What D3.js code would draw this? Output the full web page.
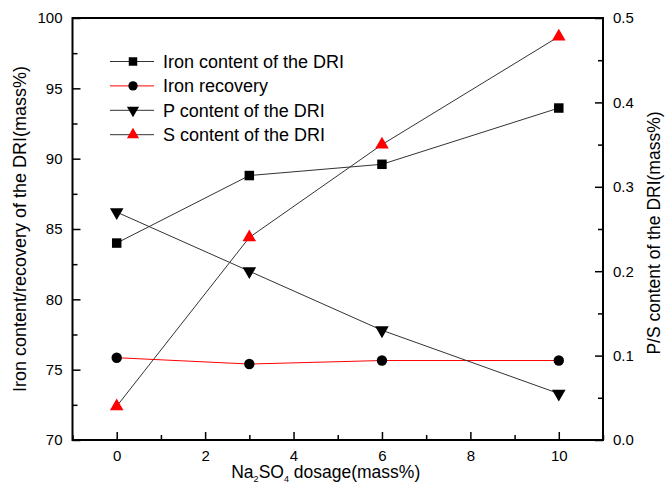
<!DOCTYPE html>
<html><head><meta charset="utf-8">
<script src="https://cdn.jsdelivr.net/npm/d3@7"></script>
<style>body{margin:0;background:#fff}svg{display:block}</style>
</head><body>
<svg id="c" width="666" height="489"></svg>
<script>
const dosage = [0, 3, 6, 10];
const ironContent = [84.0, 88.8, 89.6, 93.6];
const ironRecovery = [75.85, 75.4, 75.65, 75.65];
const pContent = [0.27, 0.20, 0.13, 0.055];
const sContent = [0.04, 0.24, 0.35, 0.478];
const leftTicks = [70, 75, 80, 85, 90, 95, 100];
const rightTicks = [0.0, 0.1, 0.2, 0.3, 0.4, 0.5];
const xTicks = [0, 2, 4, 6, 8, 10];
const seriesNames = ["Iron content of the DRI", "Iron recovery", "P content of the DRI", "S content of the DRI"];

const svg = d3.select("#c");
const L = 72.5, R = 603, T = 18, B = 440;
const font = "Liberation Sans, Arial, sans-serif";
const x = d3.scaleLinear().domain([-1, 11]).range([L, R]);
const yL = d3.scaleLinear().domain([70, 100]).range([B, T]);
const yR = d3.scaleLinear().domain([0, 0.5]).range([B, T]);

function styleAxis(g){
  g.select(".domain").remove();
  g.selectAll("line").attr("stroke","#000").attr("stroke-width",1.5);
  g.selectAll("text").attr("font-family",font).attr("font-size",15).attr("fill","#000");
}
const xMinor = d3.range(-1, 11.01, 1).filter(v => !xTicks.includes(v));
const lMinor = d3.range(72.5, 100, 5);
const rMinor = d3.range(0.05, 0.5, 0.1);

const gx = svg.append("g").attr("transform",`translate(0,${B})`)
  .call(d3.axisBottom(x).tickValues(xTicks).tickSizeInner(-8).tickSizeOuter(0).tickPadding(10).tickFormat(d3.format("d")));
styleAxis(gx);
svg.append("g").attr("transform",`translate(0,${B})`)
  .call(d3.axisBottom(x).tickValues(xMinor).tickSize(-5).tickFormat(""))
  .call(g=>{g.select(".domain").remove();g.selectAll("line").attr("stroke","#000").attr("stroke-width",1.5);});

const gl = svg.append("g").attr("transform",`translate(${L},0)`)
  .call(d3.axisLeft(yL).tickValues(leftTicks).tickSizeInner(-8).tickSizeOuter(0).tickPadding(10).tickFormat(d3.format("d")));
styleAxis(gl);
svg.append("g").attr("transform",`translate(${L},0)`)
  .call(d3.axisLeft(yL).tickValues(lMinor).tickSize(-5).tickFormat(""))
  .call(g=>{g.select(".domain").remove();g.selectAll("line").attr("stroke","#000").attr("stroke-width",1.5);});

const gr = svg.append("g").attr("transform",`translate(${R},0)`)
  .call(d3.axisRight(yR).tickValues(rightTicks).tickSizeInner(-8).tickSizeOuter(0).tickPadding(10).tickFormat(d3.format(".1f")));
styleAxis(gr);
svg.append("g").attr("transform",`translate(${R},0)`)
  .call(d3.axisRight(yR).tickValues(rMinor).tickSize(-5).tickFormat(""))
  .call(g=>{g.select(".domain").remove();g.selectAll("line").attr("stroke","#000").attr("stroke-width",1.5);});

svg.append("rect").attr("x",L).attr("y",T).attr("width",R-L).attr("height",B-T)
  .attr("fill","none").attr("stroke","#000").attr("stroke-width",2);

const series = [
  {name: seriesNames[0], vals: ironContent, y: yL, line: "#333", mark: "#000", sym: d3.symbolSquare, size: 90, rot: 0},
  {name: seriesNames[1], vals: ironRecovery, y: yL, line: "#f00", mark: "#000", sym: d3.symbolCircle, size: 85, rot: 0},
  {name: seriesNames[2], vals: pContent, y: yR, line: "#333", mark: "#000", sym: d3.symbolTriangle, size: 80, rot: 180},
  {name: seriesNames[3], vals: sContent, y: yR, line: "#333", mark: "#f00", sym: d3.symbolTriangle, size: 80, rot: 0}
];
series.forEach(s => {
  const pts = dosage.map((d,i)=>[x(d), s.y(s.vals[i])]);
  svg.append("path").attr("d", d3.line()(pts)).attr("fill","none").attr("stroke",s.line).attr("stroke-width",1);
  svg.selectAll(null).data(pts).enter().append("path")
    .attr("d", d3.symbol().type(s.sym).size(s.size))
    .attr("transform", p=>`translate(${p[0]},${p[1]}) rotate(${s.rot})`)
    .attr("fill", s.mark);
});

const lg = svg.append("g");
series.forEach((s,i) => {
  const yy = 61.5 + i*24.4;
  lg.append("line").attr("x1",110).attr("x2",154).attr("y1",yy).attr("y2",yy).attr("stroke",s.line).attr("stroke-width",1);
  lg.append("path").attr("d", d3.symbol().type(s.sym).size(s.size*0.8))
    .attr("transform",`translate(133,${yy}) rotate(${s.rot})`).attr("fill",s.mark);
  lg.append("text").attr("x",163).attr("y",yy).attr("dy","0.35em")
    .attr("font-family",font).attr("font-size",18).text(s.name);
});

svg.append("text").attr("transform",`translate(26,${(T+B)/2}) rotate(-90)`)
  .attr("text-anchor","middle").attr("font-family",font).attr("font-size",18)
  .text("Iron content/recovery of the DRI(mass%)");
svg.append("text").attr("transform",`translate(660,${(T+B)/2 + 4}) rotate(-90)`)
  .attr("text-anchor","middle").attr("font-family",font).attr("font-size",17.5)
  .text("P/S content of the DRI(mass%)");
const xt = svg.append("text").attr("x",(L+R)/2 - 12).attr("y",478)
  .attr("text-anchor","middle").attr("font-family",font).attr("font-size",17.5);
xt.append("tspan").text("Na");
xt.append("tspan").attr("font-size",9).attr("dy",4).text("2");
xt.append("tspan").attr("dy",-4).text("SO");
xt.append("tspan").attr("font-size",9).attr("dy",4).text("4");
xt.append("tspan").attr("dy",-4).text(" dosage(mass%)");
</script>
</body></html>
